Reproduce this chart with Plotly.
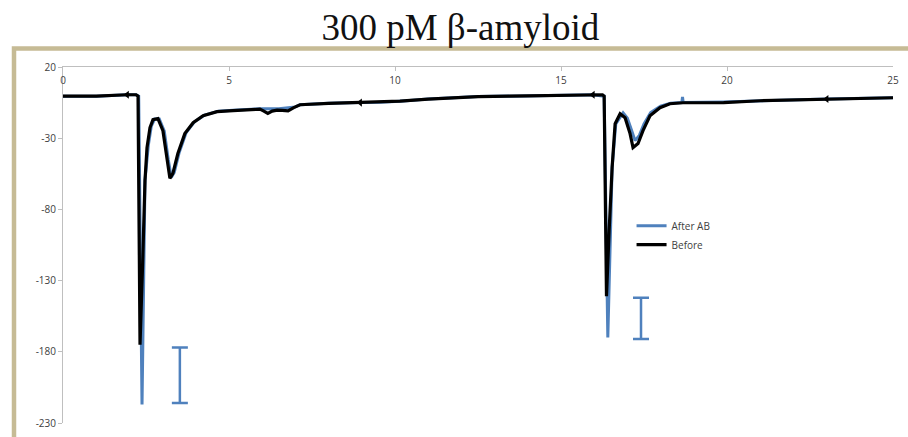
import plotly.graph_objects as go

# ---- data ----
before_x = [0, 1.0, 1.93, 2.2, 2.26, 2.32, 2.40, 2.47, 2.53, 2.62, 2.71, 2.86, 3.01, 3.13, 3.22, 3.31,
            3.46, 3.67, 3.92, 4.22, 4.64, 5.12, 5.93, 6.05, 6.17, 6.3, 6.45, 6.6, 6.78, 6.95, 7.14,
            8.0, 8.95, 9.55, 10.15, 11.0, 12.5, 14.0, 15.96, 16.25, 16.3, 16.37, 16.45, 16.54, 16.63,
            16.78, 16.93, 17.08, 17.17, 17.32, 17.47, 17.68, 17.98, 18.28, 18.67, 19.9, 21.0, 23.0, 25.0]
before_y = [-0.5, -0.5, 0.5, 0.5, -0.5, -175, -117, -59.6, -36.6, -22.6, -17, -16.3, -24.7, -45.6, -58.2, -54.7,
            -40.8, -26.8, -19.1, -14.2, -11.4, -10.7, -9.6, -11, -12.6, -11, -10.3, -10.5, -10.8, -8.5, -6.5,
            -5.5, -5, -4.8, -4, -2.5, -0.8, -0.3, 0.5, 0.5, -0.5, -141, -95, -50.5, -19.8,
            -12.8, -15.6, -26.8, -36.6, -33.8, -24.7, -14.2, -8.6, -5.8, -5.1, -5, -3.7, -2.5, -1.6]

after_x = [0, 1.0, 1.93, 2.2, 2.28, 2.36, 2.38, 2.47, 2.57, 2.66, 2.76, 2.9, 3.05, 3.17, 3.26, 3.35,
           3.5, 3.71, 3.96, 4.26, 4.68, 5.12, 5.93, 6.5, 7.0, 7.14, 8.0, 8.95, 9.55, 10.15, 11.0,
           12.5, 14.0, 15.96, 16.3, 16.39, 16.41, 16.54, 16.65, 16.87, 17.0, 17.12, 17.23, 17.36, 17.5,
           17.7, 18.0, 18.3, 18.64, 18.66, 18.68, 19.9, 21.0, 23.0, 25.0]
after_y = [-0.5, -0.5, 0.5, 0.5, -0.5, -217, -217, -59.6, -35, -21.5, -16.5, -16.5, -25, -45, -57.5, -54,
           -40, -26, -18.5, -13.8, -11, -10.3, -9.3, -9.3, -8, -6.5, -5.5, -5, -4.8, -4, -2.5,
           -0.8, -0.3, 0.5, -0.5, -170, -170, -50.5, -20, -12.1, -16, -24, -31.7, -28, -20,
           -12, -7.5, -5.5, -5, -1, -5, -4.5, -3.7, -2.5, -1.6]

marker_x = [1.93, 8.95, 15.96, 23.0]
marker_y = [0.5, -5, 0.5, -2.5]

ibar_x = [3.52, 17.41]
ibar_top = [-177, -142]
ibar_bottom = [-216, -171]

x_ticks = [0, 5, 10, 15, 20, 25]
x_tick_labels = ["0", "5", "10", "15", "20", "25"]
y_ticks = [20, -30, -80, -130, -180, -230]
y_tick_labels = ["20", "-30", "-80", "-130", "-180", "-230"]

title_text = "300 pM β-amyloid"

BLUE = "#4F81BD"
BLACK = "#000000"

fig = go.Figure()
fig.add_trace(go.Scatter(x=after_x, y=after_y, mode="lines", name="After AB",
                         line=dict(color=BLUE, width=3)))
fig.add_trace(go.Scatter(x=before_x, y=before_y, mode="lines", name="Before",
                         line=dict(color=BLACK, width=3.2)))
fig.add_trace(go.Scatter(x=marker_x, y=marker_y, mode="markers", showlegend=False,
                         marker=dict(symbol="triangle-left", size=7, color=BLACK)))

centers = [(a + b) / 2 for a, b in zip(ibar_top, ibar_bottom)]
halves = [(a - b) / 2 for a, b in zip(ibar_top, ibar_bottom)]
fig.add_trace(go.Scatter(x=ibar_x, y=centers, mode="markers", showlegend=False,
                         marker=dict(size=1, color="rgba(0,0,0,0)"),
                         error_y=dict(type="data", array=halves, symmetric=True,
                                      color=BLUE, thickness=2.5, width=8)))

axis_font = dict(family="Open Sans, Liberation Sans, sans-serif", size=10, color="#404040")

W, H = 908, 437
ML, MR, MT, MB = 63, 15, 67, 14
PW, PH = W - ML - MR, H - MT - MB

fig.update_layout(
    width=W, height=H,
    margin=dict(l=ML, r=MR, t=MT, b=MB, autoexpand=False),
    paper_bgcolor="white", plot_bgcolor="white",
    title=dict(text=title_text, x=0.507, xanchor="center", y=0.938, yanchor="middle",
               yref="container",
               font=dict(family="Liberation Serif, serif", size=37, color="#111111")),
    xaxis=dict(range=[0, 25], side="top", tickvals=x_ticks, ticktext=x_tick_labels,
               ticks="inside", ticklen=4,
               tickcolor="#BFBFBF", showline=True, linecolor="#BFBFBF", linewidth=1,
               showgrid=False, zeroline=False, ticklabelposition="inside",
               ticklabeloverflow="allow", ticklabelstandoff=5,
               tickfont=axis_font),
    yaxis=dict(range=[-230, 20], tickvals=y_ticks, ticktext=y_tick_labels,
               ticks="outside", ticklen=4,
               tickcolor="#BFBFBF", showline=True, linecolor="#BFBFBF", linewidth=1,
               showgrid=False, zeroline=False, ticklabeloverflow="allow", tickfont=axis_font),
    legend=dict(x=0.685, y=0.595, xanchor="left", yanchor="top",
                bgcolor="rgba(0,0,0,0)", font=dict(family="Open Sans, sans-serif", size=10, color="#404040")),
    shapes=[dict(type="rect", xref="paper", yref="paper",
                 x0=(14 - ML) / PW, x1=(914 - ML) / PW,
                 y0=1 - (442 - MT) / PH, y1=1 + (MT - 48.5) / PH,
                 line=dict(color="#C6BB95", width=4.5), fillcolor="rgba(0,0,0,0)", layer="below")],
)

# remove the default 8px page margin so the figure fills the window exactly
fig.write_html("out.html",
               config={"displayModeBar": False},
               post_script="document.body.style.margin='0';document.body.style.overflow='hidden';")
